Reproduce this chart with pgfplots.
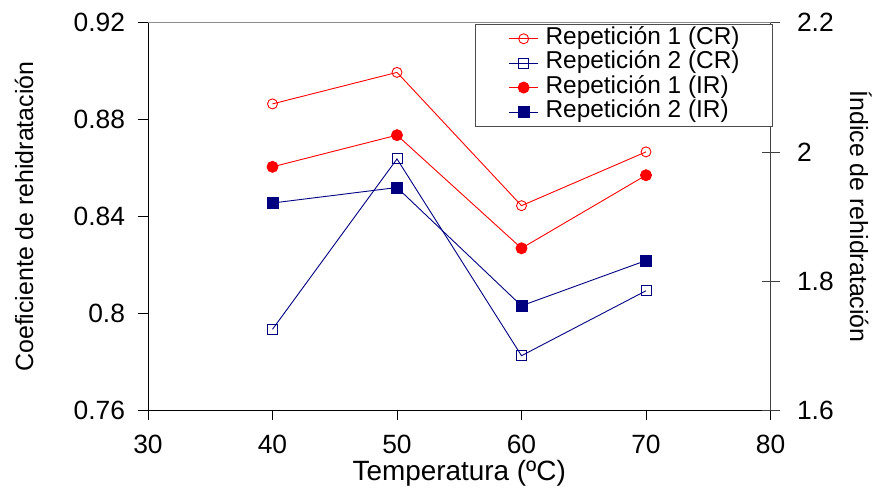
\documentclass[border=0pt]{standalone}
\usepackage{fontspec}
\setmainfont{Liberation Sans}
\usepackage{pgfplots}
\pgfplotsset{compat=1.18}
\definecolor{navyb}{RGB}{0,0,128}
\definecolor{redc}{RGB}{255,0,0}
\begin{document}
\begin{tikzpicture}
\path (-148bp,-75.5bp) rectangle (731bp,410.5bp);
\pgfplotsset{
  common/.style={
    scale only axis, width=622.5bp, height=387.8bp,
    at={(0,0)}, anchor=south west,
    xmin=30, xmax=80, separate axis lines,
    /pgf/number format/assume math mode=true,
    tick label style={font=\fontsize{26.5}{26.5}\selectfont},
    label style={font=\fontsize{25}{25}\selectfont},
    every tick/.style={line width=0.8bp},
    scaled y ticks=false,
    yticklabel style={/pgf/number format/fixed,/pgf/number format/precision=2},
  },
}
\begin{axis}[common,
  axis x line*=bottom, axis y line*=left,
  axis line style={line width=0.9bp,black},
  ymin=0.76, ymax=0.92, ytick={0.76,0.8,0.84,0.88,0.92},
  xtick={30,40,50,60,70,80},
  tick align=outside, major tick length=9.5bp,
  xticklabel style={anchor=base, yshift=-34bp, inner sep=1bp},
  yticklabel style={xshift=-10bp},
  ylabel={Coeficiente de rehidratación},
  ylabel style={at={(axis description cs:-0.1847,0.5)}, anchor=base},
  xlabel={Temperatura (ºC)},
  xlabel style={at={(axis description cs:0.5,-0.1805)}, anchor=base, inner sep=1bp, font=\fontsize{28}{28}\selectfont},
]
\addplot[color=redc, line width=0.9bp, mark=o, mark size=5bp, mark options={fill=white}]
  coordinates {(40,0.8865) (50,0.8995) (60,0.8445) (70,0.8667)};
\addplot[color=navyb, line width=0.9bp, mark=square, mark size=5bp, mark options={fill=white}]
  coordinates {(40,0.7935) (50,0.8638) (60,0.7826) (70,0.8094)};
\end{axis}
\begin{axis}[common,
  axis x line*=top, axis y line*=right,
  x axis line style={line width=0.9bp, black!45},
  y axis line style={line width=0.9bp, black!75},
  xtick=\empty,
  ymin=1.6, ymax=2.2, ytick={1.6,1.8,2,2.2},
  ytick align=center, major tick length=18bp,
  ytick style={black!75},
  yticklabel style={xshift=14bp},
  ylabel={Índice de rehidratación},
  ylabel style={at={(axis description cs:1.1277,0.5)}, anchor=base, rotate=-180},
  legend style={at={(axis description cs:1.004,0.997)}, anchor=north east,
    draw=black!70, line width=0.8bp, fill=white,
    font=\fontsize{24.5}{24.5}\selectfont,
    inner xsep=33bp, inner ysep=3bp, row sep=1.4bp,
    nodes={inner sep=0pt, text height=17bp, text depth=6bp, anchor=west},
  },
  legend cell align=left,
  /tikz/every odd column/.append style={column sep=7bp},
  legend image code/.code={
    \draw[mark repeat=2,mark phase=2,#1] plot coordinates {(0bp,0bp) (14.5bp,0bp) (29bp,0bp)};
  },
]
\addlegendimage{color=redc, line width=0.9bp, mark=o, mark size=5bp, mark options={fill=white}}
\addlegendentry{Repetición 1 (CR)}
\addlegendimage{color=navyb, line width=0.9bp, mark=square, mark size=5bp, mark options={fill=white}}
\addlegendentry{Repetición 2 (CR)}
\addplot[color=redc, line width=0.9bp, mark=*, mark size=5.5bp]
  coordinates {(40,1.977) (50,2.026) (60,1.851) (70,1.964)};
\addlegendentry{Repetición 1 (IR)}
\addplot[color=navyb, line width=0.9bp, mark=square*, mark size=5.5bp]
  coordinates {(40,1.921) (50,1.945) (60,1.762) (70,1.832)};
\addlegendentry{Repetición 2 (IR)}
\end{axis}
\end{tikzpicture}
\end{document}
